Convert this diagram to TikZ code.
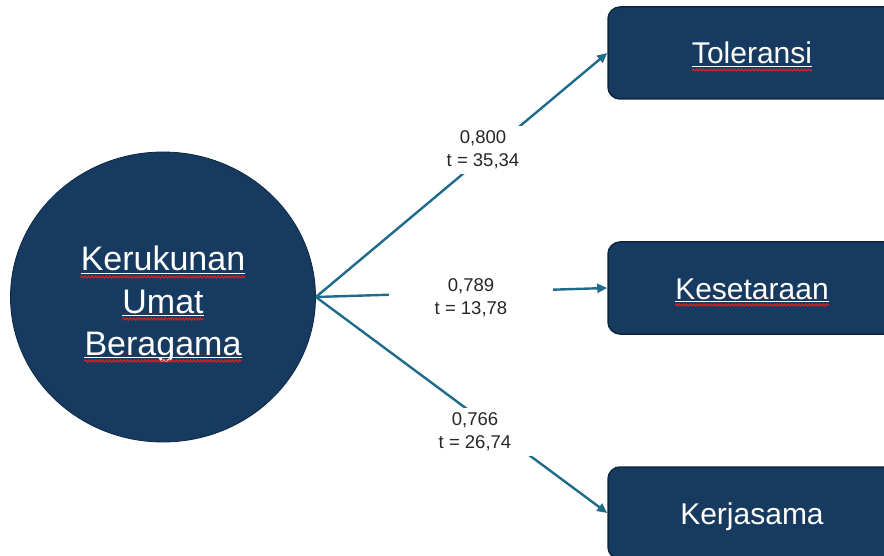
\documentclass[tikz,border=0pt]{standalone}
\usepackage{fontspec}
\setmainfont{Liberation Sans}
\usetikzlibrary{shapes.geometric,arrows.meta,decorations.pathmorphing,calc}
\definecolor{navy}{HTML}{173B60}
\definecolor{navyedge}{HTML}{0E2740}
\definecolor{linkcol}{HTML}{1F6B8C}
\definecolor{spellred}{HTML}{E02020}
\begin{document}
\begin{tikzpicture}[x=1pt,y=-1pt,
			hub/.style={ellipse, fill=navy, draw=navyedge, line width=0.8pt, minimum width=305pt, minimum height=290pt, inner sep=0pt},
			termbox/.style={rectangle, rounded corners=12pt, fill=navy, draw=navyedge, line width=1.5pt, minimum width=288pt, minimum height=92pt},
			word/.style={text=white, inner sep=0pt, anchor=base, font=\fontsize{30}{36}\selectfont},
			link/.style={draw=linkcol, line width=2.4pt, -{Triangle[length=10pt,width=9pt]}},
			coef/.style={fill=white, align=center, minimum width=164pt, minimum height=48pt, inner sep=0pt, text=black!85, font=\fontsize{18.5}{23}\selectfont},
			spell/.style={draw=spellred, line width=1.1pt, decorate, decoration={snake, amplitude=1pt, segment length=3.5pt}}]
			
			\useasboundingbox (0,0) rectangle (884,556);
			\clip (0,0) rectangle (884,556);
			
			\node[hub] (kub) at (163,297) {};
			\node[termbox] (tol) at (752,53) {};
			\node[termbox] (kes) at (752,288) {};
			\node[termbox] (ker) at (752,513) {};
			
			\node[word, font=\fontsize{34}{40}\selectfont] (kub1) at ($(kub.center)+(0,-26)$) {Kerukunan};
			\node[word, font=\fontsize{34}{40}\selectfont] (kub2) at ($(kub.center)+(0,16)$) {Umat};
			\node[word, font=\fontsize{34}{40}\selectfont] (kub3) at ($(kub.center)+(0,58)$) {Beragama};
			\node[word] (tolw) at ($(tol.center)+(0,11)$) {Toleransi};
			\node[word] (kesw) at ($(kes.center)+(0,11)$) {Kesetaraan};
			\node[word] (kerw) at ($(ker.center)+(0,11)$) {Kerjasama};
			
			\foreach \w in {kub1,kub2,kub3,tolw,kesw}{
				\draw[white, line width=1.6pt] ($(\w.base west)+(0,2.5)$) -- ($(\w.base east)+(0,2.5)$);
				\draw[spell] ($(\w.base west)+(0,6)$) -- ($(\w.base east)+(0,6)$);
			}
			
			\draw[link] (kub.east) -- (tol.west);
			\draw[link] (kub.east) -- (kes.west);
			\draw[link] (kub.east) -- (ker.west);
			
			\node[coef] (c1) at (483,150) {0,800\\t = 35,34};
			\node[coef] (c2) at (471,298) {0,789\\t = 13,78};
			\node[coef] (c3) at (475,432) {0,766\\t = 26,74};
			\end{tikzpicture}
\end{document}
